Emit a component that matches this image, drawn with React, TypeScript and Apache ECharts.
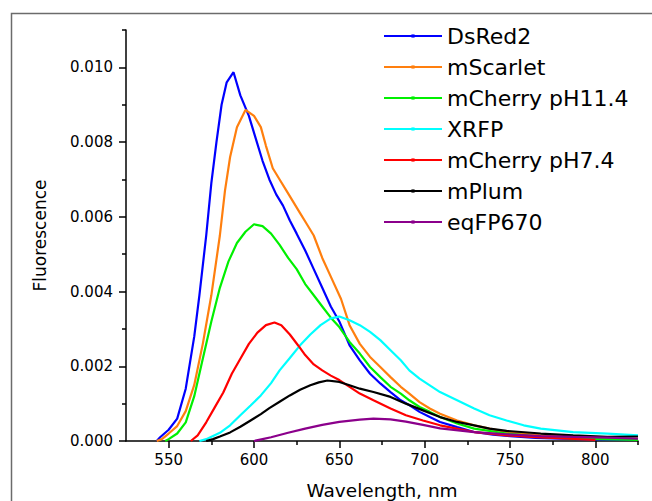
import React, { useEffect, useRef } from "react";
import * as echarts from "echarts";

// ---- Data ----
const seriesNames = ["DsRed2", "mScarlet", "mCherry pH11.4", "XRFP", "mCherry pH7.4", "mPlum", "eqFP670"];
const seriesColors = ["#0000ff", "#ff7f0e", "#00f000", "#00ffff", "#ff0000", "#000000", "#8b008b"];

const dsRed2Wl = [543, 545, 550, 555, 560, 565, 568, 572, 575, 578, 581, 584, 588, 592, 597, 601, 605, 609, 613, 617, 621, 625, 630, 635, 640, 645, 650, 656, 662, 668, 674, 680, 686, 691, 697, 703, 709, 719, 729, 740, 750, 765, 780, 800, 825];
const dsRed2Val = [0, 0.1, 0.3, 0.6, 1.4, 2.8, 3.9, 5.5, 6.9, 8.0, 9.0, 9.6, 9.87, 9.25, 8.7, 8.1, 7.5, 7.0, 6.6, 6.3, 5.9, 5.55, 5.1, 4.6, 4.1, 3.6, 3.2, 2.56, 2.16, 1.8, 1.54, 1.31, 1.09, 0.96, 0.78, 0.64, 0.51, 0.37, 0.24, 0.17, 0.13, 0.08, 0.06, 0.04, 0.03];

const mScarletWl = [543, 546, 550, 555, 560, 565, 570, 575, 580, 583, 586, 590, 595, 600, 604, 607, 611, 615, 619, 623, 627, 631, 635, 640, 645, 651, 656, 662, 668, 674, 680, 686, 691, 697, 703, 709, 719, 729, 738, 748, 768, 787, 807, 825];
const mScarletVal = [0, 0.05, 0.2, 0.4, 0.8, 1.5, 2.6, 3.9, 5.5, 6.7, 7.6, 8.4, 8.86, 8.7, 8.4, 7.9, 7.3, 7.0, 6.7, 6.4, 6.1, 5.8, 5.5, 4.9, 4.4, 3.8, 3.1, 2.6, 2.25, 1.98, 1.71, 1.45, 1.27, 1.04, 0.87, 0.73, 0.55, 0.42, 0.33, 0.24, 0.15, 0.11, 0.06, 0.06];

const mCherry114Wl = [548, 550, 555, 560, 565, 570, 575, 580, 585, 590, 595, 600, 605, 610, 615, 620, 625, 630, 635, 640, 645, 650, 656, 662, 668, 674, 680, 686, 691, 697, 703, 709, 719, 729, 748, 768, 787, 805, 825];
const mCherry114Val = [0, 0.05, 0.2, 0.5, 1.2, 2.2, 3.2, 4.1, 4.8, 5.3, 5.6, 5.8, 5.75, 5.55, 5.25, 4.9, 4.6, 4.2, 3.9, 3.6, 3.3, 3.05, 2.65, 2.34, 1.98, 1.71, 1.45, 1.27, 1.09, 0.91, 0.78, 0.64, 0.47, 0.33, 0.2, 0.11, 0.07, 0.05, 0.03];

const xrfpWl = [568, 572, 580, 586, 592, 598, 604, 610, 615, 621, 627, 633, 639, 645, 650, 656, 662, 668, 674, 680, 686, 691, 697, 703, 709, 719, 729, 738, 748, 758, 768, 787, 807, 825];
const xrfpVal = [0, 0.05, 0.22, 0.42, 0.69, 0.95, 1.22, 1.55, 1.89, 2.22, 2.56, 2.85, 3.1, 3.28, 3.33, 3.23, 3.1, 2.92, 2.7, 2.43, 2.16, 1.89, 1.67, 1.49, 1.31, 1.09, 0.87, 0.69, 0.55, 0.42, 0.33, 0.24, 0.2, 0.15];

const mCherry74Wl = [563, 567, 572, 577, 582, 587, 592, 597, 602, 607, 612, 616, 621, 626, 630, 635, 640, 645, 650, 656, 662, 670, 680, 689, 699, 709, 729, 748, 765, 785, 800];
const mCherry74Val = [0, 0.15, 0.5, 0.9, 1.3, 1.8, 2.2, 2.6, 2.9, 3.1, 3.17, 3.1, 2.85, 2.55, 2.3, 2.05, 1.89, 1.75, 1.63, 1.45, 1.27, 1.09, 0.87, 0.69, 0.55, 0.42, 0.24, 0.15, 0.1, 0.06, 0.03];

const mPlumWl = [572, 576, 580, 586, 592, 598, 604, 609, 615, 621, 627, 633, 638, 643, 650, 656, 662, 670, 680, 689, 699, 709, 719, 729, 738, 748, 768, 787, 807, 825];
const mPlumVal = [0, 0.05, 0.12, 0.23, 0.38, 0.55, 0.72, 0.88, 1.05, 1.22, 1.37, 1.49, 1.57, 1.62, 1.58, 1.49, 1.4, 1.31, 1.18, 1.0, 0.82, 0.64, 0.51, 0.42, 0.33, 0.27, 0.2, 0.15, 0.11, 0.12];

const eqFP670Wl = [600, 605, 610, 620, 630, 640, 650, 662, 670, 680, 689, 699, 709, 729, 748, 768, 787, 807, 825];
const eqFP670Val = [0, 0.05, 0.1, 0.22, 0.33, 0.43, 0.51, 0.57, 0.6, 0.58, 0.52, 0.43, 0.34, 0.24, 0.18, 0.13, 0.11, 0.09, 0.06];

const valueScale = 0.001; // values above are in units of 1e-3

const xMajorTicks = [550, 600, 650, 700, 750, 800];
const xMinorTicks = [575, 625, 675, 725, 775, 825];
const yMajorTicks = [0, 0.002, 0.004, 0.006, 0.008, 0.01];
const yMinorTicks = [0.001, 0.003, 0.005, 0.007, 0.009, 0.011];

const xTitle = "Wavelength, nm";
const yTitle = "Fluorescence";

const FONT = "DejaVu Sans";

function zip(wl: number[], v: number[]) {
  return wl.map((w, i) => [w, v[i] * valueScale]);
}

export default function App() {
  const ref = useRef<HTMLDivElement>(null);
  useEffect(() => {
    if (!ref.current) return;
    const chart = echarts.init(ref.current, undefined, { renderer: "svg" });
    const allData = [
      zip(dsRed2Wl, dsRed2Val),
      zip(mScarletWl, mScarletVal),
      zip(mCherry114Wl, mCherry114Val),
      zip(xrfpWl, xrfpVal),
      zip(mCherry74Wl, mCherry74Val),
      zip(mPlumWl, mPlumVal),
      zip(eqFP670Wl, eqFP670Val),
    ];
    const axisLine = { show: true, onZero: false, lineStyle: { color: "#000", width: 1.5 } };
    chart.setOption({
      animation: false,
      backgroundColor: "#fff",
      grid: { left: 126, top: 30, right: 14, bottom: 60, containLabel: false, outerBoundsMode: "none" },
      graphic: [
        {
          type: "rect",
          left: 9,
          top: 11,
          shape: { x: 0, y: 0, width: 800, height: 600 },
          style: { fill: "none", stroke: "#6b6b6b", lineWidth: 1.5 },
          silent: true,
          z: -10,
        },
      ],
      legend: {
        orient: "vertical",
        left: 383,
        top: 25,
        padding: 0,
        itemWidth: 58,
        itemHeight: 4,
        itemGap: 9,
        itemTextGap: 6,
        selectedMode: false,
        textStyle: { fontFamily: FONT, fontSize: 22, color: "#000" },
        data: seriesNames,
      },
      xAxis: [
        {
          type: "value",
          min: 525,
          max: 825,
          position: "bottom",
          name: xTitle,
          nameLocation: "middle",
          nameGap: 40,
          nameTextStyle: { fontFamily: FONT, fontSize: 18.5, color: "#000" },
          axisLine,
          axisTick: { show: true, length: 7, inside: false, customValues: xMajorTicks, lineStyle: { color: "#000", width: 1.5 } },
          axisLabel: { show: true, customValues: xMajorTicks, margin: 11, fontFamily: FONT, fontSize: 15, color: "#000" },
          splitLine: { show: false },
          minorTick: { show: false },
        },
        {
          type: "value",
          min: 525,
          max: 825,
          position: "bottom",
          axisLine: { show: false, onZero: false },
          axisTick: { show: true, length: 4, inside: false, customValues: xMinorTicks, lineStyle: { color: "#000", width: 1.5 } },
          axisLabel: { show: false },
          splitLine: { show: false },
        },
      ],
      yAxis: [
        {
          type: "value",
          min: 0,
          max: 0.011,
          position: "left",
          name: yTitle,
          nameLocation: "middle",
          nameGap: 78,
          nameRotate: 90,
          nameTextStyle: { fontFamily: FONT, fontSize: 17, color: "#000" },
          axisLine,
          axisTick: { show: true, length: 7, inside: false, customValues: yMajorTicks, lineStyle: { color: "#000", width: 1.5 } },
          axisLabel: {
            show: true,
            customValues: yMajorTicks,
            margin: 13,
            fontFamily: FONT,
            fontSize: 15,
            color: "#000",
            formatter: (v: number) => v.toFixed(3),
          },
          splitLine: { show: false },
        },
        {
          type: "value",
          min: 0,
          max: 0.011,
          position: "left",
          axisLine: { show: false, onZero: false },
          axisTick: { show: true, length: 4, inside: false, customValues: yMinorTicks, lineStyle: { color: "#000", width: 1.5 } },
          axisLabel: { show: false },
          splitLine: { show: false },
        },
      ],
      series: seriesNames.map((name, i) => ({
        name,
        type: "line",
        xAxisIndex: 0,
        yAxisIndex: 0,
        data: allData[i],
        showSymbol: false,
        symbol: "rect",
        symbolSize: 3,
        color: seriesColors[i],
        lineStyle: { color: seriesColors[i], width: 2.2 },
        itemStyle: { color: seriesColors[i] },
        emphasis: { disabled: true },
      })),
    });
    return () => chart.dispose();
  }, []);
  return (
    <div
      ref={ref}
      style={{ position: "absolute", left: 0, top: 0, width: 652, height: 501 }}
    />
  );
}
